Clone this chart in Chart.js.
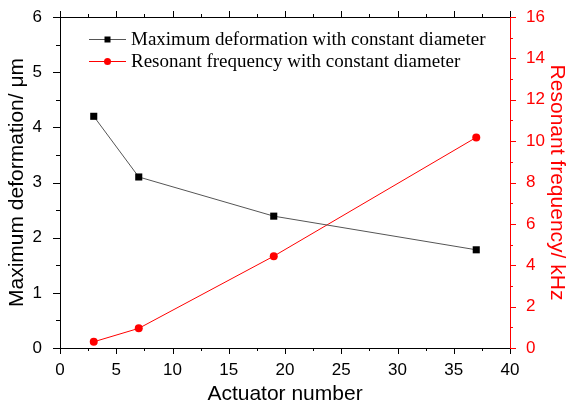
<!DOCTYPE html>
<html>
<head>
<meta charset="utf-8">
<script src="https://cdn.jsdelivr.net/npm/chart.js@4/dist/chart.umd.min.js"></script>
<style>
  html, body { margin: 0; padding: 0; background: #fff; }
  #wrap { width: 567px; height: 408px; }
</style>
</head>
<body>
<div id="wrap"><canvas id="c" width="567" height="408"></canvas></div>
<script>
// Actuator counts on the x axis
const actuatorNumbers = [3, 7, 19, 37];
// Maximum deformation (µm), left axis
const maxDeformation = [4.20, 3.10, 2.39, 1.78];
// Resonant frequency (kHz), right axis
const resonantFrequency = [0.30, 0.95, 4.44, 10.18];

const seriesLabels = [
  'Maximum deformation with constant diameter',
  'Resonant frequency with constant diameter'
];
const xTitle = 'Actuator number';
const yLeftTitle = 'Maximum deformation/ \u03bcm';
const yRightTitle = 'Resonant frequency/ kHz';

const RED = '#ff0000';
const SANS = 'Arial, "Liberation Sans", sans-serif';
const SERIF = '"Times New Roman", "Liberation Serif", serif';

const toPoints = (xs, ys) => xs.map((x, i) => ({ x, y: ys[i] }));

// Draws Origin-style tick marks (major + minor) and the top frame line
const frameTicks = {
  id: 'frameTicks',
  afterDraw(chart) {
    const ctx = chart.ctx;
    const { left, right, top, bottom } = chart.chartArea;
    const xs = chart.scales.x, yl = chart.scales.y, yr = chart.scales.y2;
    ctx.save();
    ctx.lineWidth = 1;
    // top frame
    ctx.strokeStyle = '#000';
    ctx.beginPath();
    ctx.moveTo(left, top + 0.5);
    ctx.lineTo(right, top + 0.5);
    ctx.stroke();
    // x ticks, bottom (outward) and top (outward)
    ctx.beginPath();
    for (let v = xs.min; v <= xs.max + 1e-9; v += 2.5) {
      const major = Math.abs(v / 5 - Math.round(v / 5)) < 1e-6;
      const len = major ? 6 : 3;
      const px = Math.round(xs.getPixelForValue(v)) + 0.5;
      ctx.moveTo(px, bottom);
      ctx.lineTo(px, bottom + len);
      ctx.moveTo(px, top);
      ctx.lineTo(px, top - len);
    }
    // left y ticks
    for (let v = yl.min; v <= yl.max + 1e-9; v += 0.5) {
      const major = Math.abs(v - Math.round(v)) < 1e-6;
      const len = major ? 7 : 4;
      const py = Math.round(yl.getPixelForValue(v)) + 0.5;
      ctx.moveTo(left, py);
      ctx.lineTo(left - len, py);
    }
    ctx.stroke();
    // right y ticks (red)
    ctx.strokeStyle = RED;
    ctx.beginPath();
    for (let v = yr.min; v <= yr.max + 1e-9; v += 1) {
      const major = Math.round(v) % 2 === 0;
      const len = major ? 6 : 3;
      const py = Math.round(yr.getPixelForValue(v)) + 0.5;
      ctx.moveTo(right, py);
      ctx.lineTo(right + len, py);
    }
    ctx.stroke();
    ctx.restore();
  }
};

// Legend inside the plot: line with the marker in its middle, then the label
const insideLegend = {
  id: 'insideLegend',
  afterDraw(chart) {
    const ctx = chart.ctx;
    const { left, top } = chart.chartArea;
    const x0 = left + 29, x1 = left + 66, tx = left + 71;
    const rowY = [top + 22, top + 44];
    ctx.save();
    chart.data.datasets.forEach((ds, i) => {
      const y = rowY[i];
      ctx.strokeStyle = ds.borderColor;
      ctx.lineWidth = 1;
      ctx.beginPath();
      ctx.moveTo(x0, y + 0.5);
      ctx.lineTo(x1, y + 0.5);
      ctx.stroke();
      const cx = (x0 + x1) / 2;
      ctx.fillStyle = ds.pointBackgroundColor;
      ctx.beginPath();
      if (ds.pointStyle === 'rect') {
        ctx.rect(cx - 3, y - 2.5, 6, 6);
      } else {
        ctx.arc(cx, y + 0.5, 3.5, 0, Math.PI * 2);
      }
      ctx.fill();
      ctx.fillStyle = '#000';
      ctx.font = '19px ' + SERIF;
      ctx.textBaseline = 'middle';
      ctx.textAlign = 'left';
      ctx.fillText(ds.label, tx, y + 1);
    });
    ctx.restore();
  }
};

const noEdgePadding = (scale) => {
  scale.paddingTop = 0; scale.paddingBottom = 0;
  scale.paddingLeft = 0; scale.paddingRight = 0;
};

new Chart(document.getElementById('c'), {
  type: 'line',
  data: {
    datasets: [
      {
        label: seriesLabels[0],
        data: toPoints(actuatorNumbers, maxDeformation),
        yAxisID: 'y',
        borderColor: '#555555',
        borderWidth: 1,
        pointStyle: 'rect',
        pointRadius: 5,
        pointBackgroundColor: '#000000',
        pointBorderColor: '#000000',
        pointBorderWidth: 0,
        tension: 0
      },
      {
        label: seriesLabels[1],
        data: toPoints(actuatorNumbers, resonantFrequency),
        yAxisID: 'y2',
        borderColor: RED,
        borderWidth: 1,
        pointStyle: 'circle',
        pointRadius: 4,
        pointBackgroundColor: RED,
        pointBorderColor: RED,
        pointBorderWidth: 0,
        tension: 0
      }
    ]
  },
  options: {
    responsive: false,
    animation: false,
    events: [],
    layout: { padding: { top: 17, left: 0, right: 0, bottom: 0 } },
    plugins: {
      legend: { display: false },
      tooltip: { enabled: false }
    },
    scales: {
      x: {
        type: 'linear',
        position: 'bottom',
        min: 0, max: 40,
        grid: { display: false },
        border: { display: true, color: '#000', width: 1 },
        ticks: {
          stepSize: 5,
          color: '#000',
          font: { family: SANS, size: 17 },
          padding: 4
        },
        title: {
          display: true,
          text: xTitle,
          color: '#000',
          font: { family: SANS, size: 21, lineHeight: 1 },
          padding: { top: 0, bottom: 3 }
        },
        afterFit(scale) { scale.height = 60; noEdgePadding(scale); }
      },
      y: {
        type: 'linear',
        position: 'left',
        min: 0, max: 6,
        grid: { display: false },
        border: { display: true, color: '#000', width: 1 },
        ticks: {
          stepSize: 1,
          color: '#000',
          font: { family: SANS, size: 17 },
          padding: 10
        },
        title: {
          display: true,
          text: yLeftTitle,
          color: '#000',
          font: { family: SANS, size: 21, lineHeight: 1 },
          padding: { top: 7, bottom: 0 }
        },
        afterFit(scale) { scale.width = 60; noEdgePadding(scale); }
      },
      y2: {
        type: 'linear',
        position: 'right',
        min: 0, max: 16,
        grid: { display: false },
        border: { display: true, color: RED, width: 1 },
        ticks: {
          stepSize: 2,
          color: RED,
          font: { family: SANS, size: 17 },
          padding: 8
        },
        title: {
          display: true,
          text: yRightTitle,
          color: RED,
          font: { family: SANS, size: 21, lineHeight: 1 },
          padding: { top: 0, bottom: 0 }
        },
        afterFit(scale) { scale.width = 57; noEdgePadding(scale); }
      }
    }
  },
  plugins: [frameTicks, insideLegend]
});
</script>
</body>
</html>
